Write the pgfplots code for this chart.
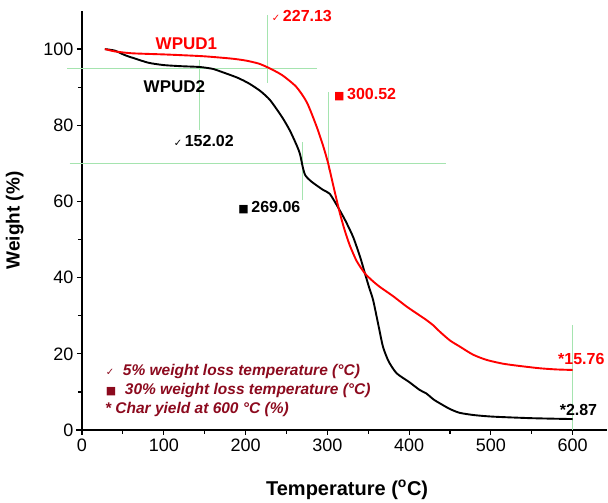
\documentclass[border=0pt]{standalone}
\usepackage{pgfplots}
\pgfplotsset{compat=1.18}
\usepackage{fontspec}
\setmainfont{Liberation Sans}
\newfontfamily\dejavu{DejaVu Sans}
\definecolor{lgreen}{RGB}{165,228,175}
\definecolor{dred}{RGB}{140,10,30}
\definecolor{pred}{RGB}{255,0,0}
\newcommand{\fs}[1]{\fontsize{#1}{#1}\selectfont}
\begin{document}
\begin{tikzpicture}
\path[use as bounding box] (-82pt,-73pt) rectangle (526pt,430pt);
\begin{axis}[
  at={(0,0)}, anchor=south west,
  scale only axis, width=525pt, height=419pt,
  xmin=0, xmax=642, ymin=0, ymax=110,
  axis lines=left, axis line style={-, line width=1.3pt},
  clip=false,
  xtick={0,100,...,600}, minor xtick={50,150,...,550},
  ytick={0,20,...,100}, minor ytick={10,30,...,90},
  tick align=outside,
  major tick length=5pt, minor tick length=4pt,
  tick style={line width=1.2pt, black},
  /pgf/number format/assume math mode=true,
  ticklabel style={font=\fs{18}},
  xlabel={\textbf{Temperature (\textsuperscript{o}C)}},
  ylabel={\textbf{Weight (\%)}},
  xlabel style={font=\fs{20}, at={(axis description cs:0.505,-0.143)}, anchor=center},
  ylabel style={font=\fs{19}, at={(axis description cs:-0.128,0.5)}, anchor=center},
]
% guide lines
\addplot[lgreen, line width=1pt, forget plot] coordinates {(-18,95) (287,95)};
\addplot[lgreen, line width=1pt, forget plot] coordinates {(-15,70) (445,70)};
\addplot[lgreen, line width=1pt, forget plot] coordinates {(144,97.1) (144,78.7)};
\addplot[lgreen, line width=1pt, forget plot] coordinates {(227,109) (227,91)};
\addplot[lgreen, line width=1pt, forget plot] coordinates {(301,88.7) (301,68.2)};
\addplot[lgreen, line width=1pt, forget plot] coordinates {(270,75.6) (270,60.4)};
\addplot[lgreen, line width=1pt, forget plot] coordinates {(600,27.6) (600,0)};
\addplot[black, line width=1.3pt, forget plot] coordinates {(-7,0) (0,0)};
% WPUD2
\addplot[black, line width=1.9pt, smooth, tension=0.4] coordinates {
(28,100) (40,99.6) (52.6,98.4) (65,97.5) (81.5,96.4) (100,95.8) (122,95.5)
(144,95.3) (160,94.8) (171,94) (190,92.5) (204,91) (218,89) (230,86.6)
(244.5,82.2) (254,78.7) (262,75) (266.5,72.5) (270,69) (273,66.9) (280,65.3)
(295,63) (303,62) (313,58.5) (322,55) (331.5,50.7) (340,45.5) (346,41.1)
(351,37.5) (356,34.1) (362,28) (368,21.9) (375,18) (384.7,14.9) (400,12.6)
(413,10.5) (421,9.6) (430,8) (437.6,7) (450,5.5) (462,4.5) (480,3.9)
(503,3.5) (550,3.1) (600,2.87)};
% WPUD1
\addplot[pred, line width=1.9pt, smooth, tension=0.4] coordinates {
(28,100) (40,99.4) (61,98.9) (100,98.6) (122,98.4) (150,98.1) (183,97.5)
(200,97.0) (216,96.2) (228,95.1) (244.5,93.2) (262,90.1) (275,86) (287,79.6)
(295,74.5) (301,70) (308,63.5) (315,57.2) (321,52.6) (327.6,48.4) (336,44.3)
(346,41.1) (355,39.2) (364,37.6) (380,35.2) (397,32.4) (410,30.5) (421,28.9)
(430,27.4) (437.6,25.8) (450,23.5) (462,21.9) (478,19.8) (494.7,18.4)
(515,17.4) (535.5,16.8) (560,16.2) (580,15.9) (600,15.76)};
% labels
\node[pred, font=\fs{17}\bfseries] at (axis cs:127.7,101.3) {WPUD1};
\node[black, font=\fs{17}\bfseries] at (axis cs:113,90.1) {WPUD2};
\node[pred, anchor=west, font=\fs{16}\bfseries, inner sep=0pt] at (axis cs:232,108.7) {{\dejavu\fs{10}✓}\,227.13};
\node[pred, anchor=west, font=\fs{16}\bfseries, inner sep=0pt] at (axis cs:308,88) {{\dejavu\fs{11}■}\,300.52};
\node[black, anchor=west, font=\fs{16}\bfseries, inner sep=0pt] at (axis cs:112,75.9) {{\dejavu\fs{10}✓}\,152.02};
\node[black, anchor=west, font=\fs{16}\bfseries, inner sep=0pt] at (axis cs:191,58.5) {{\dejavu\fs{11}■}\,269.06};
\node[pred, anchor=west, font=\fs{16}\bfseries, inner sep=0pt] at (axis cs:582,18.6) {*15.76};
\node[black, anchor=west, font=\fs{16}\bfseries, inner sep=0pt] at (axis cs:584,5.2) {*2.87};
\node[dred, anchor=west, font=\fs{15.5}\bfseries\itshape, inner sep=0pt] at (axis cs:29,15.3) {{\dejavu\upshape\fs{10}✓}\ \ 5\% weight loss temperature (°C)};
\node[dred, anchor=west, font=\fs{15.5}\bfseries\itshape, inner sep=0pt] at (axis cs:29,10.5) {{\dejavu\upshape\fs{11}■}\ \ 30\% weight loss temperature (°C)};
\node[dred, anchor=west, font=\fs{15.5}\bfseries\itshape, inner sep=0pt] at (axis cs:28,5.5) {* Char yield at 600 °C (\%)};
\end{axis}
\end{tikzpicture}
\end{document}
